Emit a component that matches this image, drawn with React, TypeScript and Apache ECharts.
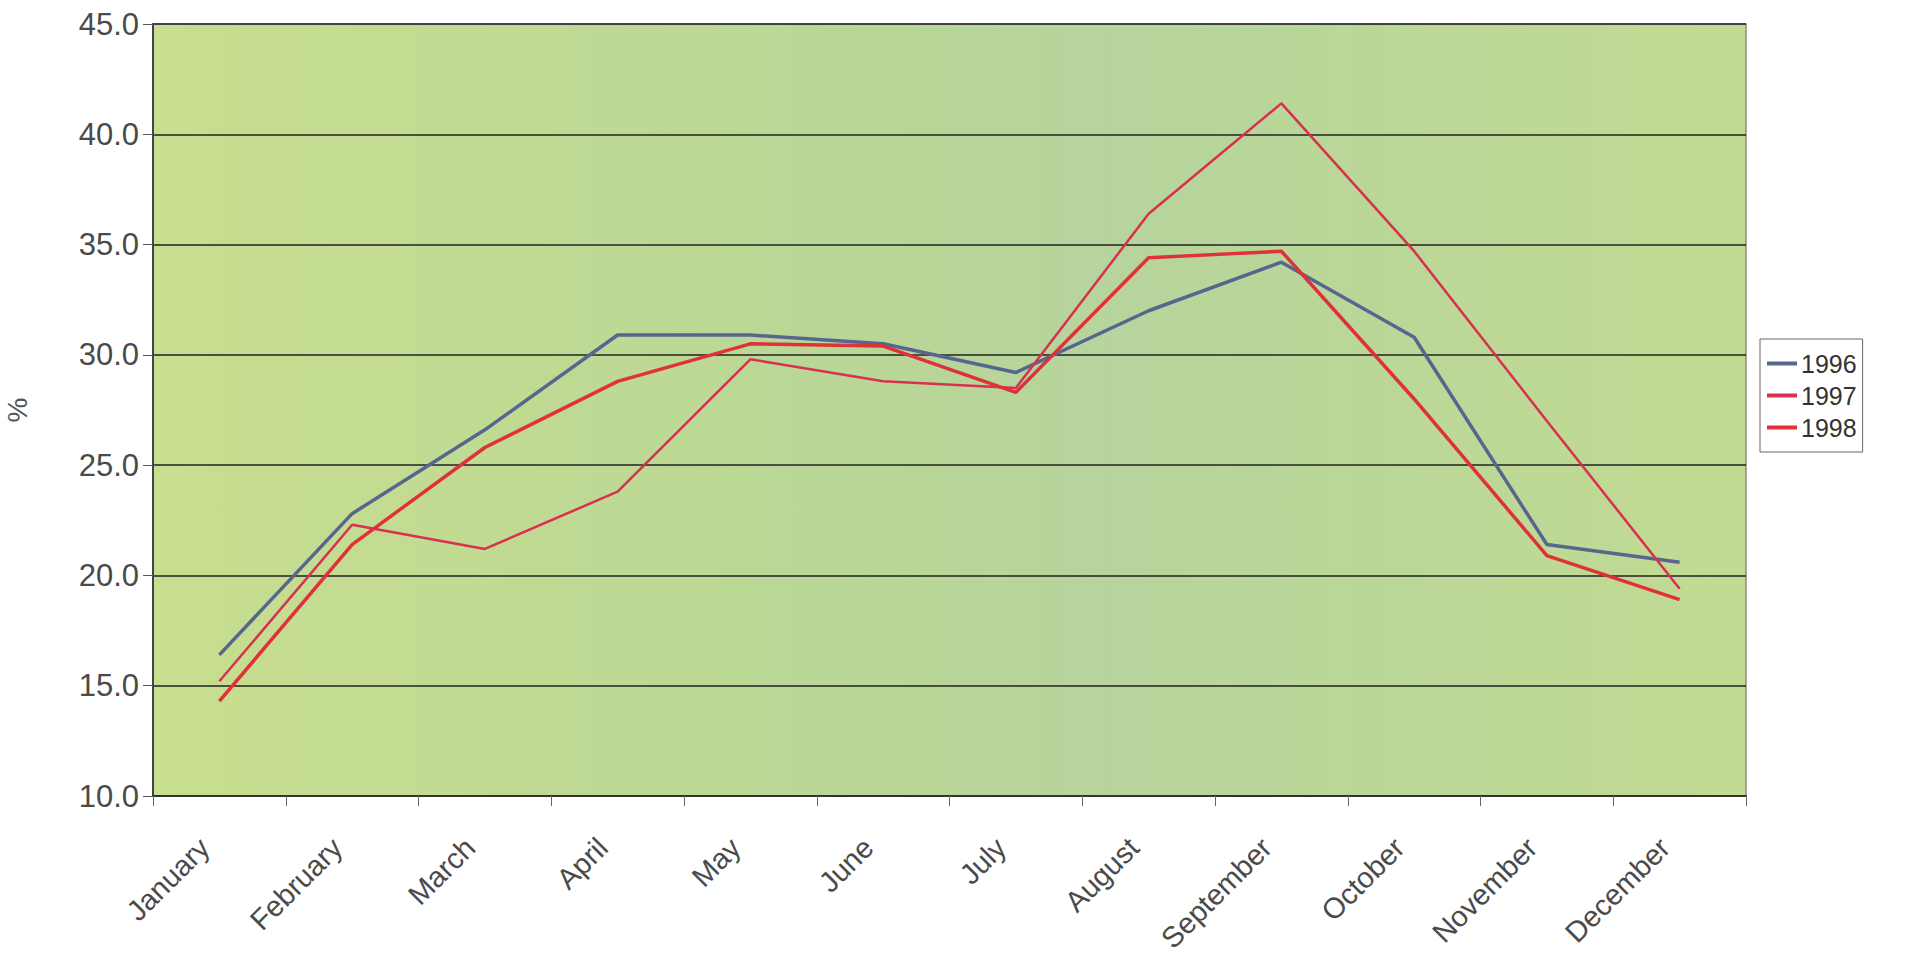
import React, { useEffect, useRef } from "react";
import * as echarts from "echarts";

const months = ["January", "February", "March", "April", "May", "June", "July", "August", "September", "October", "November", "December"];
const seriesNames = ["1996", "1997", "1998"];
const values1996 = [16.4, 22.8, 26.6, 30.9, 30.9, 30.5, 29.2, 32.0, 34.2, 30.8, 21.4, 20.6];
const values1997 = [15.2, 22.3, 21.2, 23.8, 29.8, 28.8, 28.5, 36.4, 41.4, 34.7, 27.0, 19.4];
const values1998 = [14.3, 21.4, 25.8, 28.8, 30.5, 30.4, 28.3, 34.4, 34.7, 28.0, 20.9, 18.9];
const yTicks = { min: 10, max: 45, interval: 5 };
const axisName = "%";

export default function App() {
  const ref = useRef<HTMLDivElement>(null);
  useEffect(() => {
    document.body.style.margin = "0";
    document.body.style.overflow = "hidden";
    const chart = echarts.init(ref.current!, null, { renderer: "svg" });
    const font = "'Liberation Sans', Arial, sans-serif";
    chart.setOption({
      animation: false,
      backgroundColor: "#ffffff",
      textStyle: { fontFamily: font },
      grid: {
        left: 153,
        top: 24,
        width: 1593,
        height: 772,
        containLabel: false,
        outerBoundsMode: "none",
        show: true,
        borderColor: "#8a8a8a",
        borderWidth: 1.5,
        backgroundColor: new echarts.graphic.LinearGradient(0, 0, 1, 0, [
          { offset: 0, color: "#c8de90" },
          { offset: 0.35, color: "#bcd894" },
          { offset: 0.6, color: "#b6d49c" },
          { offset: 1, color: "#c2db92" },
        ]),
      },
      legend: {
        orient: "vertical",
        left: 1760,
        top: 339,
        padding: [12, 6, 12, 7],
        itemGap: 7,
        itemWidth: 30,
        itemHeight: 4,
        icon: "rect",
        borderColor: "#666",
        borderWidth: 1,
        backgroundColor: "#ffffff",
        textStyle: { fontSize: 25, color: "#333", fontFamily: font, lineHeight: 24, padding: [0, 0, 0, -1] },
        data: seriesNames,
      },
      xAxis: {
        type: "category",
        data: months,
        boundaryGap: true,
        axisLine: { lineStyle: { color: "#333", width: 2 } },
        axisTick: { show: true, length: 10, lineStyle: { color: "#666", width: 1 } },
        axisLabel: {
          rotate: 45,
          fontSize: 29,
          color: "#4a4a4a",
          margin: 32,
          padding: [0, 21, 0, 0],
          fontFamily: font,
          interval: 0,
        },
        splitLine: { show: false },
      },
      yAxis: {
        type: "value",
        min: yTicks.min,
        max: yTicks.max,
        interval: yTicks.interval,
        name: axisName,
        nameLocation: "middle",
        nameGap: 122,
        nameRotate: 90,
        nameTextStyle: { fontSize: 28, color: "#555", fontFamily: font },
        axisLine: { show: true, lineStyle: { color: "#444", width: 2 } },
        axisTick: { show: true, length: 10, lineStyle: { color: "#555" } },
        axisLabel: {
          fontSize: 31,
          color: "#4a4a4a",
          margin: 14,
          fontFamily: font,
          formatter: (v: number) => v.toFixed(1),
        },
        splitLine: { show: true, lineStyle: { color: "#222", width: 1.6 } },
      },
      series: [
        {
          name: seriesNames[0],
          type: "line",
          data: values1996,
          symbol: "none",
          color: "#56668f",
          lineStyle: { color: "#56668f", width: 3.5 },
        },
        {
          name: seriesNames[1],
          type: "line",
          data: values1997,
          symbol: "none",
          color: "#d8304f",
          lineStyle: { color: "#d8304f", width: 2.5 },
        },
        {
          name: seriesNames[2],
          type: "line",
          data: values1998,
          symbol: "none",
          color: "#e0303a",
          lineStyle: { color: "#e0303a", width: 3.5 },
        },
      ],
    });
    return () => chart.dispose();
  }, []);
  return <div ref={ref} style={{ width: 1921, height: 961 }} />;
}
